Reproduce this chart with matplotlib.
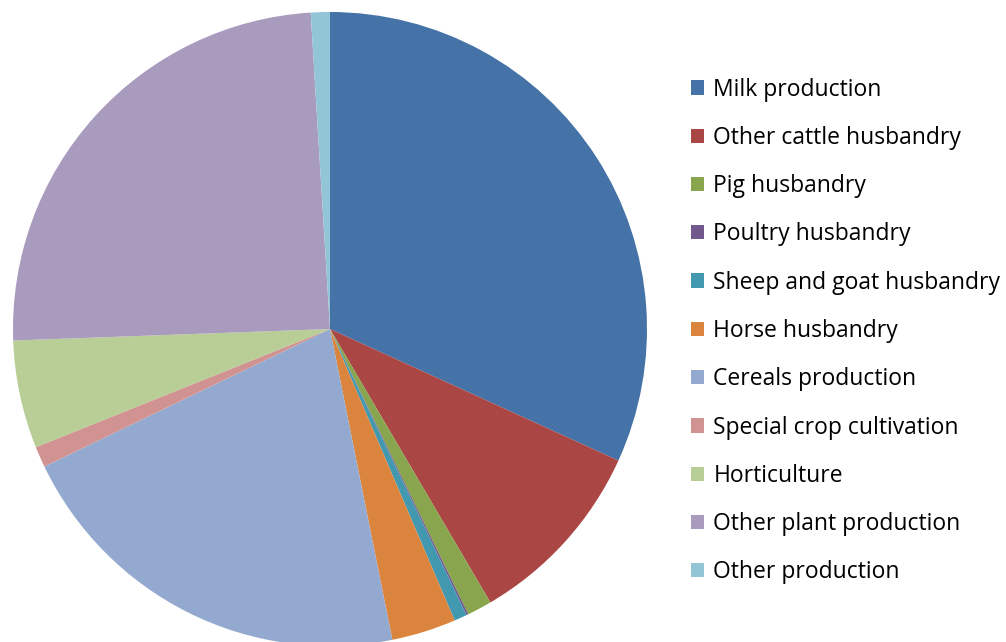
import matplotlib
matplotlib.use("Agg")
import matplotlib.pyplot as plt
from matplotlib.patches import Patch

# --- data (percent of total) ---
labels = ["Milk production", "Other cattle husbandry", "Pig husbandry",
          "Poultry husbandry", "Sheep and goat husbandry", "Horse husbandry",
          "Cereals production", "Special crop cultivation", "Horticulture",
          "Other plant production", "Other production"]
shares = [31.8, 9.74, 1.26, 0.1, 0.65, 3.28, 21.0, 1.06, 5.5, 24.6, 0.97]
colors = ["#4572A7", "#AA4643", "#89A54E", "#71588F", "#4198AF", "#DB843D",
          "#93A9CF", "#D19392", "#B9CD96", "#A99BBD", "#92C5D6"]

plt.rcParams['font.family'] = ['Open Sans', 'DejaVu Sans']

W, H = 1006, 642
fig = plt.figure(figsize=(W / 100, H / 100), dpi=100)

# pie centre (330, 329) px, radius 317 px
cx, cy, r = 330, 329, 317
ax = fig.add_axes([(cx - r) / W, (H - cy - r) / H, 2 * r / W, 2 * r / H])
ax.pie(shares, colors=colors, startangle=90, counterclock=False, radius=1,
       wedgeprops=dict(linewidth=0))
ax.set_xlim(-1, 1)
ax.set_ylim(-1, 1)
ax.set_aspect('equal')
ax.axis('off')

handles = [Patch(facecolor=c, edgecolor='none') for c in colors]
fig.legend(handles, labels, loc='upper left', bbox_to_anchor=(691 / W, 1 - 77.5 / H),
           frameon=False, fontsize=16.5, handlelength=0.58, handleheight=0.58,
           handletextpad=0.4, labelspacing=1.06, borderpad=0, borderaxespad=0)

fig.savefig("out.png", dpi=100)
